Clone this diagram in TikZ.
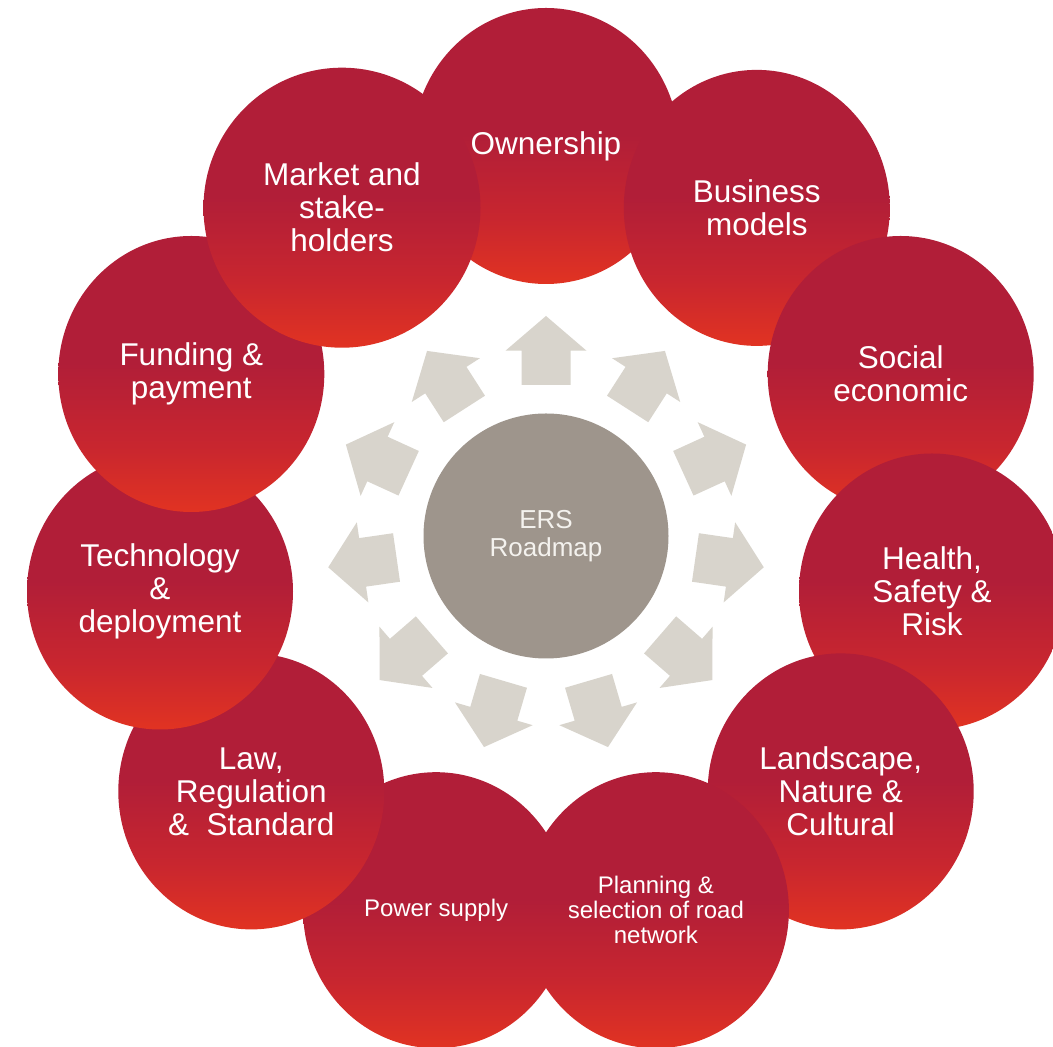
\documentclass[tikz,border=0pt]{standalone}
\usepackage{fontspec}
\setmainfont{Liberation Sans}
\usetikzlibrary{shapes.geometric}
\definecolor{redtop}{HTML}{B11E38}
\definecolor{redmid}{HTML}{C8262F}
\definecolor{redbot}{HTML}{E13322}
\definecolor{hubgray}{HTML}{9E958C}
\definecolor{arrowgray}{HTML}{D8D4CC}
\definecolor{hubtext}{HTML}{F4F2EE}
\pgfdeclareverticalshading{redgrad}{100bp}{color(0bp)=(redbot); color(25bp)=(redbot); color(37bp)=(redmid); color(52bp)=(redtop); color(100bp)=(redtop)}
\tikzset{
  petal/.style={ellipse, shade, shading=redgrad, minimum width=266pt, minimum height=276pt,
    inner sep=0pt, text=white, align=center, font=\fontsize{31.5}{33}\selectfont},
  petalbig/.style={petal, minimum width=277pt, minimum height=280pt},
  petalsmall/.style={petal, font=\fontsize{24}{25}\selectfont},
  hub/.style={circle, fill=hubgray, minimum size=245pt, inner sep=0pt, text=hubtext,
    align=center, font=\fontsize{26}{28}\selectfont},
  blockarrow/.style={fill=arrowgray}
}
\begin{document}
\begin{tikzpicture}[x=1pt,y=1pt]
\clip (0,0) rectangle (1053,1047);
\useasboundingbox (0,0) rectangle (1053,1047);
\fill[white] (0,0) rectangle (1053,1047);
\coordinate (C) at (546,511);
% block arrows
\foreach \k in {0,...,10}{
  \pgfmathsetmacro{\ang}{90-\k*360/11}
  \begin{scope}[shift={(C)}, rotate=\ang]
    \fill[blockarrow] (151,-24.5) -- (185.3,-24.5) -- (185.3,-40.5) -- (220,0)
      -- (185.3,40.5) -- (185.3,24.5) -- (151,24.5) -- cycle;
  \end{scope}
}
% hub
\node[hub] (hub) at (C) {ERS\\Roadmap};
% petals in clockwise order (each over the previous)
\node[petal] (own) at (546,901) {Ownership};
\node[petal] (bus) at (756.8,839.1) {Business\\models};
\node[petal] (soc) at (900.7,673.0) {Social\\economic};
\node[petal] (hsr) at (932.0,455.5) {Health,\\Safety \&\\Risk};
\node[petal] (lnc) at (840.7,255.6) {Landscape,\\Nature \&\\Cultural};
\node[petalsmall] (plan) at (655.9,136.8) {Planning \&\\selection of road\\network};
\node[petalsmall] (pow) at (436.1,136.8) {Power supply};
\node[petal] (law) at (251.3,255.6) {Law,\\Regulation\\\&~ Standard};
\node[petal] (tech) at (160.0,455.5) {Technology\\\&\\deployment};
\node[petal] (fund) at (191.3,673.0) {Funding \&\\payment};
\node[petalbig] (mkt) at (342,839.3) {Market and\\stake-\\holders};
\end{tikzpicture}
\end{document}
